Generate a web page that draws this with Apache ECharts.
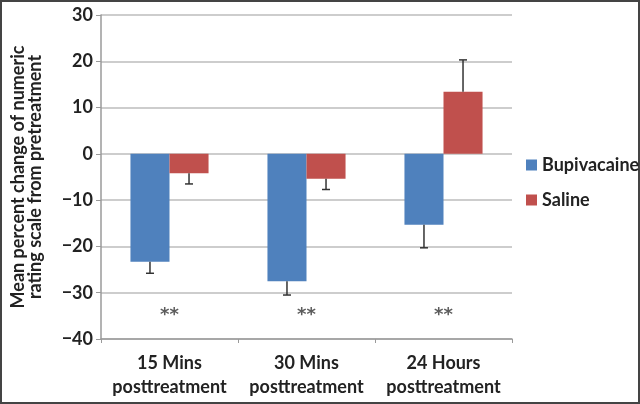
<!DOCTYPE html>
<html><head><meta charset="utf-8">
<script src="https://cdn.jsdelivr.net/npm/echarts@6/dist/echarts.min.js"></script>
<style>html,body{margin:0;padding:0;background:#fff}#c{width:640px;height:404px}</style>
</head><body><div id="c"></div>
<script>
var categories = ['15 Mins\nposttreatment', '30 Mins\nposttreatment', '24 Hours\nposttreatment'];
var bupivacaine = [-23.3, -27.5, -15.3];
var saline = [-4.2, -5.4, 13.4];
var bupivacaineErr = [2.5, 3.0, 5.0];
var salineErr = [2.3, 2.3, 6.9];
var sigLabels = ['**', '**', '**'];
var sigY = -34.8;
var yTicks = { min: -40, max: 30, interval: 10 };

var chart = echarts.init(document.getElementById('c'));
var font = 'Lato, "Open Sans", sans-serif';
var barFrac = 0.285;

function errItem(values, errs, side) {
  return function (params, api) {
    var i = api.value(0);
    var v = values[i];
    var e = errs[i];
    var end = v < 0 ? v - e : v + e;
    var base = api.coord([i, v]);
    var tip = api.coord([i, end]);
    var band = api.size([1, 0])[0];
    var x = base[0] + side * band * barFrac / 2;
    var cap = 4;
    return {
      type: 'group',
      children: [
        { type: 'line', shape: { x1: x, y1: base[1], x2: x, y2: tip[1] }, style: { stroke: '#333', lineWidth: 1.5 } },
        { type: 'line', shape: { x1: x - cap, y1: tip[1], x2: x + cap, y2: tip[1] }, style: { stroke: '#333', lineWidth: 1.5 } }
      ]
    };
  };
}

chart.setOption({
  animation: false,
  textStyle: { fontFamily: font },
  grid: { left: 101, right: 128, top: 15, bottom: 65 },
  legend: {
    orient: 'vertical', left: 521, top: 150, itemWidth: 11, itemHeight: 11, itemGap: 15,
    icon: 'rect',
    textStyle: { fontFamily: font, fontWeight: 'bold', fontSize: 18, lineHeight: 20, color: '#222' },
    data: ['Bupivacaine', 'Saline']
  },
  xAxis: [{
    type: 'category', data: categories,
    axisLine: { show: false }, axisTick: { show: false },
    axisLabel: { interval: 0, fontFamily: font, fontWeight: 'bold', fontSize: 18, color: '#222', margin: 12, lineHeight: 24 }
  }, {
    type: 'category', data: categories, position: 'bottom',
    axisLine: { onZero: true, lineStyle: { color: '#9a9a9a', width: 1.5 } },
    axisTick: { show: true, length: 4, lineStyle: { color: '#9a9a9a' } },
    axisLabel: { show: false }
  }],
  yAxis: {
    type: 'value', min: yTicks.min, max: yTicks.max, interval: yTicks.interval,
    name: 'Mean percent change of numeric\nrating scale from pretreatment',
    nameLocation: 'middle', nameRotate: 90, nameGap: 57,
    nameTextStyle: { fontFamily: font, fontWeight: 'bold', fontSize: 18, color: '#222', lineHeight: 17 },
    axisLine: { show: true, lineStyle: { color: '#9a9a9a', width: 1.5 } },
    axisTick: { show: true, length: 5, lineStyle: { color: '#9a9a9a' } },
    splitLine: { lineStyle: { color: '#bcbcbc', width: 1.5 } },
    axisLabel: {
      fontFamily: font, fontWeight: 'bold', fontSize: 18, color: '#222', margin: 8,
      formatter: function (v) { return v < 0 ? '\u2212' + Math.abs(v) : String(v); }
    }
  },
  series: [
    { name: 'Bupivacaine', type: 'bar', data: bupivacaine, barWidth: '28.5%', barGap: '0%', itemStyle: { color: '#4F81BD' } },
    { name: 'Saline', type: 'bar', data: saline, barWidth: '28.5%', barGap: '0%', itemStyle: { color: '#C0504D' } },
    { type: 'custom', renderItem: errItem(bupivacaine, bupivacaineErr, -1), data: [0, 1, 2], z: 5, silent: true },
    { type: 'custom', renderItem: errItem(saline, salineErr, 1), data: [0, 1, 2], z: 5, silent: true },
    {
      type: 'scatter', symbolSize: 0, silent: true,
      data: sigLabels.map(function (s, i) { return [i, sigY, s]; }),
      label: { show: true, position: 'inside', formatter: function (p) { return p.value[2]; },
        fontFamily: '"DejaVu Sans", sans-serif', fontWeight: 'bold', fontSize: 18, color: '#333' }
    }
  ],
  graphic: [{ type: 'rect', shape: { x: 1, y: 1, width: 638, height: 402 }, style: { fill: 'none', stroke: '#444', lineWidth: 2 }, silent: true }]
});
</script>
</body></html>
